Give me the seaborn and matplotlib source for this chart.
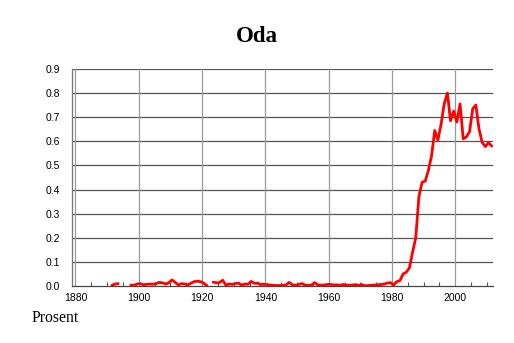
import numpy as np
import pandas as pd
import matplotlib
matplotlib.use("Agg")
import matplotlib.pyplot as plt
from matplotlib.ticker import MultipleLocator, FormatStrFormatter
import seaborn as sns

# ---- data ----
years = list(range(1891, 2012))
nan = np.nan
values = [
    0.003, 0.008, 0.010, nan, nan, nan, 0.004, 0.003, 0.008,            # 1891-1899
    0.010, 0.005, 0.007, 0.008, 0.007, 0.010, 0.015, 0.013, 0.008, 0.014,  # 1900-1909
    0.025, 0.015, 0.004, 0.010, 0.008, 0.005, 0.012, 0.018, 0.020, 0.018,  # 1910-1919
    0.012, 0.002, nan, 0.016, 0.013, 0.014, 0.024, 0.004, 0.008, 0.007,    # 1920-1929
    0.010, 0.012, 0.004, 0.008, 0.007, 0.019, 0.011, 0.012, 0.006, 0.007,  # 1930-1939
    0.006, 0.004, 0.003, 0.002, 0.002, 0.003, 0.004, 0.015, 0.005, 0.003,  # 1940-1949
    0.006, 0.010, 0.004, 0.003, 0.003, 0.014, 0.005, 0.003, 0.004, 0.006,  # 1950-1959
    0.007, 0.004, 0.005, 0.003, 0.006, 0.004, 0.003, 0.004, 0.006, 0.002,  # 1960-1969
    0.006, 0.001, 0.002, 0.003, 0.004, 0.005, 0.006, 0.008, 0.012, 0.014,  # 1970-1979
    0.004, 0.018, 0.022, 0.050, 0.057, 0.075, 0.140, 0.200, 0.370, 0.430,  # 1980-1989
    0.435, 0.480, 0.540, 0.645, 0.605, 0.670, 0.755, 0.800, 0.685, 0.725,  # 1990-1999
    0.680, 0.755, 0.610, 0.618, 0.640, 0.735, 0.750, 0.650, 0.595, 0.578,  # 2000-2009
    0.595, 0.580,                                                          # 2010-2011
]
title = "Oda"
ylabel_text = "Prosent"
x_ticks = [1880, 1900, 1920, 1940, 1960, 1980, 2000]
y_ticks = [0.0, 0.1, 0.2, 0.3, 0.4, 0.5, 0.6, 0.7, 0.8, 0.9]

df = pd.DataFrame({"year": years, "value": values})
df["pos"] = df["year"] + 0.5  # yearly values drawn at mid-year
# break the line where values are missing
df["segment"] = df["value"].isna().cumsum()
df = df.dropna(subset=["value"])

sns.set_theme(style="white")
plt.rcParams["font.family"] = ["Liberation Sans", "DejaVu Sans"]

fig = plt.figure(figsize=(5.14, 3.43), dpi=100)
ax = fig.add_axes([0.1407, 0.1662, 0.8190, 0.6328])

# gridlines
for y in y_ticks[1:]:
    ax.axhline(y, color="#555555", lw=0.9, zorder=1)
for x in x_ticks:
    ax.axvline(x, color="#9a9a9a", lw=0.9, zorder=1)

sns.lineplot(data=df, x="pos", y="value", units="segment", ax=ax,
             color="#ff0000", linewidth=2.0, zorder=3, estimator=None,
             sort=False, legend=False)

ax.set_xlim(1879, 2012)
ax.set_ylim(0, 0.9)
ax.set_xticks(x_ticks)
ax.set_yticks(y_ticks)
ax.yaxis.set_major_formatter(FormatStrFormatter("%.1f"))
ax.xaxis.set_minor_locator(MultipleLocator(5))
ax.tick_params(axis="x", which="major", length=0, pad=5, labelsize=7.5, colors="#000000")
ax.tick_params(axis="x", which="minor", direction="in", length=3, width=0.8,
               color="#555555", bottom=True)
ax.tick_params(axis="y", which="major", length=0, pad=9, labelsize=7.5, colors="#000000")

for s in ["top", "right"]:
    ax.spines[s].set_visible(False)
ax.spines["left"].set_color("#777777")
ax.spines["left"].set_linewidth(0.9)
ax.spines["bottom"].set_color("#444444")
ax.spines["bottom"].set_linewidth(0.9)

ax.set_xlabel("")
ax.set_ylabel("")

fig.text(0.5, 0.878, title, ha="center", va="baseline", color="#000000",
         fontsize=16.5, fontweight="bold", family=["Liberation Serif", "DejaVu Serif"])
fig.text(0.0617, 0.061, ylabel_text, ha="left", va="baseline", color="#000000",
         fontsize=11.3, family=["Liberation Serif", "DejaVu Serif"])

fig.savefig("out.png", dpi=100, facecolor="white")
